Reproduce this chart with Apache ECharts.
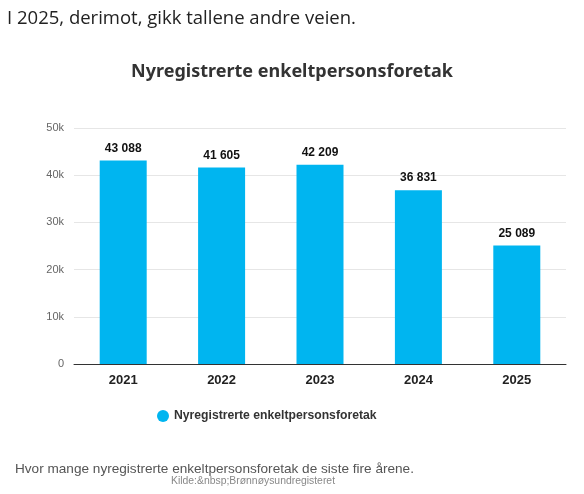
<!DOCTYPE html>
<html>
<head>
<meta charset="utf-8">
<script src="https://cdn.jsdelivr.net/npm/echarts@6/dist/echarts.min.js"></script>
<style>
  html, body { margin: 0; padding: 0; background: #fff; }
  #chart { width: 584px; height: 494px; }
</style>
</head>
<body>
<div id="chart"></div>
<script>
const years = ["2021", "2022", "2023", "2024", "2025"]
const counts = [43088, 41605, 42209, 36831, 25089]
const yTicks = [0, 10000, 20000, 30000, 40000, 50000]
const seriesName = "Nyregistrerte enkeltpersonsforetak"

const myChart = echarts.init(document.getElementById("chart"))

// tall med mellomrom som tusenskille
const fmt = (v) => String(v).replace(/\B(?=(\d{3})+(?!\d))/g, " ")

myChart.setOption({
  animation: false,
  title: [
    {
      text: "I 2025, derimot, gikk tallene andre veien.",
      left: 2, top: 4,
      textStyle: { fontFamily: "Open Sans", fontSize: 18.5, fontWeight: "normal", color: "#222" }
    },
    {
      text: "Nyregistrerte enkeltpersonsforetak",
      left: "center", top: 58,
      textStyle: { fontFamily: "Noto Sans", fontSize: 18, fontWeight: "bold", color: "#333" }
    },
    {
      text: "Hvor mange nyregistrerte enkeltpersonsforetak de siste fire årene.",
      left: 10, top: 457,
      textStyle: { fontFamily: "Liberation Sans", fontSize: 13.6, fontWeight: "normal", color: "#555" }
    },
    {
      text: "Kilde:&nbsp;Brønnøysundregisteret",
      left: 166, top: 471,
      textStyle: { fontFamily: "Liberation Sans", fontSize: 10.4, fontWeight: "normal", color: "#888" }
    }
  ],
  legend: {
    top: 405, left: 152,
    icon: "circle", itemWidth: 12, itemHeight: 12,
    textStyle: { fontFamily: "Liberation Sans", fontSize: 12.2, fontWeight: "bold", color: "#333" },
    data: [seriesName]
  },
  grid: { left: 74, right: 18, top: 128, bottom: 130 },
  xAxis: {
    type: "category",
    data: years,
    axisTick: { show: false },
    axisLine: { lineStyle: { color: "#333", width: 1 } },
    axisLabel: { fontFamily: "Liberation Sans", fontSize: 13, fontWeight: "bold", color: "#222", margin: 10 }
  },
  yAxis: {
    type: "value",
    min: yTicks[0], max: yTicks[yTicks.length - 1], interval: 10000,
    splitLine: { lineStyle: { color: "#e6e6e6" } },
    axisLabel: {
      fontFamily: "Liberation Sans", fontSize: 11, color: "#666", margin: 10,
      formatter: (v) => v === 0 ? "0" : (v / 1000) + "k"
    }
  },
  series: [{
    name: seriesName,
    type: "bar",
    data: counts,
    barWidth: 47,
    itemStyle: { color: "#00b5f0" },
    label: {
      show: true, position: "top", distance: 6,
      fontFamily: "Liberation Sans", fontSize: 12, fontWeight: "bold", color: "#111",
      formatter: (p) => fmt(p.value)
    }
  }]
})
</script>
</body>
</html>
